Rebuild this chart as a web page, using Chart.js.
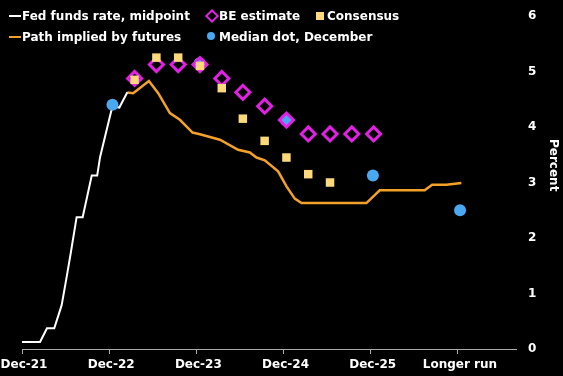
<!DOCTYPE html>
<html>
<head>
<meta charset="utf-8">
<script src="https://cdn.jsdelivr.net/npm/chart.js@4/dist/chart.umd.min.js"></script>
<style>
  body { margin: 0; background: #000; }
  #wrap { position: relative; width: 563px; height: 376px; background: #000; }
  .lg { position: absolute; color: #fff; font: bold 12px "DejaVu Sans", sans-serif; line-height: 14px; white-space: nowrap; }
  .dash { position: absolute; width: 12px; height: 2px; }
  .diam { position: absolute; width: 6px; height: 6px; border: 2px solid #e41fe6; transform: rotate(45deg); }
  .sq { position: absolute; width: 8px; height: 8px; background: #fdd97c; }
  .dot { position: absolute; width: 8px; height: 8px; border-radius: 50%; background: #4aa8f0; }
  #ytitle { position: absolute; color: #fff; font: bold 12px "DejaVu Sans", sans-serif; writing-mode: vertical-rl; left: 547px; top: 139px; line-height: 14px; }
</style>
</head>
<body>
<div id="wrap">
  <canvas id="c" width="563" height="376"></canvas>
  <div class="dash" style="left:9px;top:15px;background:#fff"></div>
  <div class="lg" style="left:22px;top:9px">Fed funds rate, midpoint</div>
  <div class="dash" style="left:9px;top:36px;background:#f4a12a"></div>
  <div class="lg" style="left:22px;top:30px">Path implied by futures</div>
  <div class="diam" style="left:207px;top:11px"></div>
  <div class="lg" style="left:219px;top:9px">BE estimate</div>
  <div class="sq" style="left:316px;top:12px"></div>
  <div class="lg" style="left:327px;top:9px">Consensus</div>
  <div class="dot" style="left:207px;top:32px"></div>
  <div class="lg" style="left:219px;top:30px">Median dot, December</div>
  <div id="ytitle">Percent</div>
</div>
<script>
// x is months after Dec-21; "Longer run" sits at 60
const tickMonths = [0, 12, 24, 36, 48, 60];
const tickLabels = ['Dec-21', 'Dec-22', 'Dec-23', 'Dec-24', 'Dec-25', 'Longer run'];

const fedMonths = [0, 2.48, 3.44, 4.44, 5.46, 6.15, 6.7, 7.52, 8.35, 9.6, 10.35, 10.75, 11.55, 12.1, 12.45, 13.4, 14.5];
const fedRate = [0.125, 0.125, 0.375, 0.375, 0.79, 1.30, 1.72, 2.375, 2.375, 3.125, 3.125, 3.46, 3.89, 4.19, 4.375, 4.35, 4.625];

const futMonths = [14.5, 15.3, 17.47, 18.75, 20.36, 21.73, 23.48, 24.49, 27.24, 29.75, 31.36, 32.28, 33.42, 35.25, 36.41, 37.55, 38.47, 47.41, 49.24, 55.43, 56.46, 58.42, 60.48];
const futRate = [4.62, 4.61, 4.83, 4.61, 4.25, 4.13, 3.90, 3.87, 3.77, 3.59, 3.54, 3.45, 3.40, 3.20, 2.93, 2.71, 2.63, 2.63, 2.86, 2.86, 2.96, 2.96, 2.99];

const quarterMonths = [15.5, 18.5, 21.5, 24.5, 27.5, 30.4, 33.4, 36.4, 39.4, 42.4, 45.4, 48.4];
const beEstimate = [4.875, 5.125, 5.125, 5.125, 4.875, 4.625, 4.375, 4.125, 3.875, 3.875, 3.875, 3.875];
const consensus = [4.85, 5.25, 5.25, 5.1, 4.7, 4.15, 3.75, 3.45, 3.15, 3.0];

const dotMonths = [12.45, 24.45, 36.3, 48.3, 60.3];
const medianDot = [4.4, 5.15, 4.125, 3.125, 2.5];

const pts = (xs, ys) => ys.map((y, i) => ({ x: xs[i], y }));
const font = { family: 'DejaVu Sans', size: 12, weight: 'bold' };

new Chart(document.getElementById('c'), {
  data: {
    datasets: [
      { type: 'line', data: pts(futMonths, futRate), borderColor: '#f4a12a', borderWidth: 2.5, pointRadius: 0, order: 5 },
      { type: 'line', data: pts(fedMonths, fedRate), borderColor: '#ffffff', borderWidth: 2, pointRadius: 0, order: 4 },
      { type: 'scatter', data: pts(dotMonths, medianDot), backgroundColor: '#4aa8f0', borderWidth: 0, pointRadius: 6, order: 3 },
      { type: 'scatter', data: pts(quarterMonths, beEstimate), pointStyle: 'rectRot', backgroundColor: 'rgba(0,0,0,0)', borderColor: '#e41fe6', borderWidth: 3, pointRadius: 7, order: 2 },
      { type: 'scatter', data: pts(quarterMonths, consensus), pointStyle: 'rect', backgroundColor: '#fdd97c', borderWidth: 0, pointRadius: 6, order: 1 }
    ]
  },
  options: {
    responsive: false,
    animation: false,
    layout: { padding: { top: 16, left: 22, right: 0, bottom: 0 } },
    plugins: { legend: { display: false }, tooltip: { enabled: false } },
    scales: {
      x: {
        type: 'linear', min: 0, max: 68,
        afterBuildTicks: s => { s.ticks = tickMonths.map(v => ({ value: v })); },
        afterFit: s => { s.paddingLeft = 0; s.paddingRight = 0; s.height = 27; },
        ticks: { callback: v => tickLabels[tickMonths.indexOf(v)], color: '#fff', font, padding: 4, labelOffset: 2, autoSkip: false, maxRotation: 0 },
        grid: { drawOnChartArea: false, drawTicks: true, tickLength: 5, color: '#aaa' },
        border: { display: true, color: '#aaa', width: 1 }
      },
      y: {
        position: 'right', min: 0, max: 6,
        afterFit: s => { s.width = 47; s.paddingTop = 0; s.paddingBottom = 0; },
        ticks: { stepSize: 1, color: '#fff', font, padding: 12 },
        grid: { display: false, drawTicks: false },
        border: { display: false }
      }
    }
  }
});
</script>
</body>
</html>
